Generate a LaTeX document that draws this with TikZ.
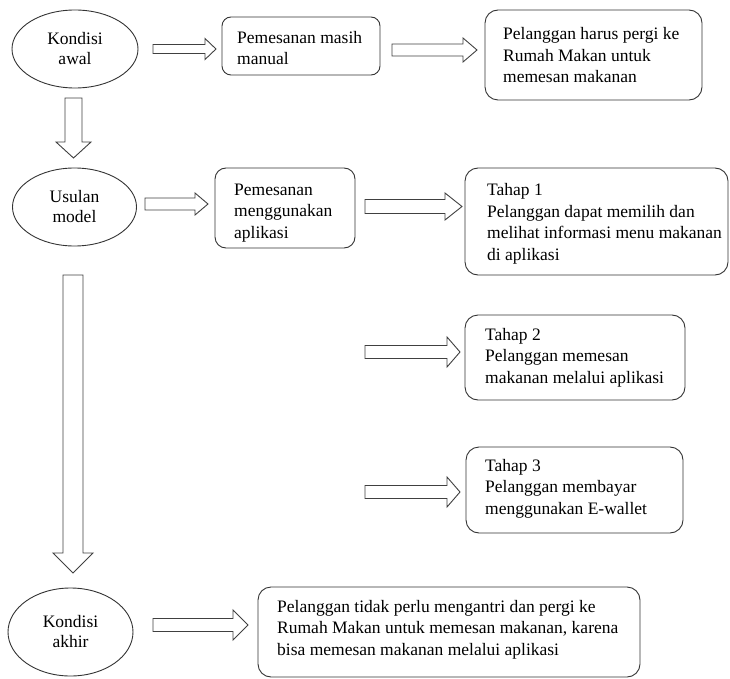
\documentclass[tikz,border=0pt]{standalone}
\usepackage{fontspec}
\setmainfont{Liberation Serif}
\usetikzlibrary{shapes.geometric,calc}

\tikzset{
  outline/.style={draw=black!80, line width=0.9pt},
  oval/.style={outline, ellipse, inner sep=0pt, align=center,
    font=\fontsize{17.5}{20}\selectfont},
  card/.style={outline, rectangle, rounded corners=12pt, inner sep=0pt},
  % placed at the baseline of the last line
  words/.style={font=\fontsize{17.5}{21.5}\selectfont, align=left,
    inner sep=0pt, anchor=base west},
  fat/.style={draw=black!75, line width=0.9pt, fill=white, line join=miter}
}

% hollow block arrow pointing right: start, end, shaft half-height, head half-height, head length
\newcommand{\rightblock}[5]{%
  \draw[fat] let \p1=(#1), \p2=(#2) in
    (\x1,\y1+#3pt) -- (\x2-#5pt,\y1+#3pt) -- (\x2-#5pt,\y1+#4pt) -- (\x2,\y1)
    -- (\x2-#5pt,\y1-#4pt) -- (\x2-#5pt,\y1-#3pt) -- (\x1,\y1-#3pt) -- cycle;}
% hollow block arrow pointing down: start, end, shaft half-width, head half-width, head length
\newcommand{\downblock}[5]{%
  \draw[fat] let \p1=(#1), \p2=(#2) in
    (\x1-#3pt,\y1) -- (\x1-#3pt,\y2+#5pt) -- (\x1-#4pt,\y2+#5pt) -- (\x1,\y2)
    -- (\x1+#4pt,\y2+#5pt) -- (\x1+#3pt,\y2+#5pt) -- (\x1+#3pt,\y1) -- cycle;}

\begin{document}
\begin{tikzpicture}[x=1pt, y=-1pt]
\useasboundingbox (0,0) rectangle (730,679);

% stages on the left
\node[oval, minimum width=126pt, minimum height=78pt] (e1) at (75,49) {Kondisi\\awal};
\node[oval, minimum width=124pt, minimum height=78pt] (e2) at (74.5,207) {Usulan\\model};
\node[oval, minimum width=125pt, minimum height=88pt] (e3) at (70.5,632) {Kondisi\\akhir};

% rounded boxes
\node[card, rounded corners=9pt, minimum width=158pt, minimum height=58pt] (b1) at (301,46) {};
\node[card, rounded corners=13pt, minimum width=217pt, minimum height=90pt] (b2) at (593.5,55) {};
\node[card, rounded corners=11pt, minimum width=140pt, minimum height=80pt] (b3) at (285,208) {};
\node[card, rounded corners=13pt, minimum width=263pt, minimum height=107pt] (b4) at (596.5,221.5) {};
\node[card, rounded corners=13pt, minimum width=220pt, minimum height=85pt] (b5) at (575,357.5) {};
\node[card, rounded corners=13pt, minimum width=217pt, minimum height=86pt] (b6) at (574.5,490) {};
\node[card, rounded corners=13pt, minimum width=382pt, minimum height=90pt] (b7) at (449,632) {};

% box texts
\node[words] (t1) at (237,65) {Pemesanan masih\\manual};
\node[words] (t2) at (503,83) {Pelanggan harus pergi ke\\Rumah Makan untuk\\memesan makanan};
\node[words] (t3) at (234,238) {Pemesanan\\menggunakan\\aplikasi};
\node[words] (t4) at (487,260) {Tahap 1\\Pelanggan dapat memilih dan\\melihat informasi menu makanan\\di aplikasi};
\node[words] (t5) at (485,383) {Tahap 2\\Pelanggan memesan\\makanan melalui aplikasi};
\node[words] (t6) at (485,514) {Tahap 3\\Pelanggan membayar\\menggunakan E-wallet};
\node[words] (t7) at (277,655) {Pelanggan tidak perlu mengantri dan pergi ke\\Rumah Makan untuk memesan makanan, karena\\bisa memesan makanan melalui aplikasi};

% arrow end points
\coordinate (a1s) at (153,49);  \coordinate (a1e) at (216,49);
\coordinate (a2s) at (392,50);  \coordinate (a2e) at (477,50);
\coordinate (a3s) at (145,204); \coordinate (a3e) at (208,204);
\coordinate (a4s) at (365,206.5); \coordinate (a4e) at (462,206.5);
\coordinate (a5s) at (365,352); \coordinate (a5e) at (460,352);
\coordinate (a6s) at (365,492); \coordinate (a6e) at (460,492);
\coordinate (a7s) at (153,625); \coordinate (a7e) at (248,625);
\coordinate (d1s) at (73.5,98); \coordinate (d1e) at (73.5,158);
\coordinate (d2s) at (73,275);  \coordinate (d2e) at (73,573);

% block arrows
\rightblock{a1s}{a1e}{4.5}{10.5}{11}
\rightblock{a2s}{a2e}{6}{12}{14}
\rightblock{a3s}{a3e}{6}{11}{13}
\rightblock{a4s}{a4e}{7}{13.5}{17}
\rightblock{a5s}{a5e}{6.5}{15}{13}
\rightblock{a6s}{a6e}{6.5}{15}{13}
\rightblock{a7s}{a7e}{6.5}{15}{15}
\downblock{d1s}{d1e}{8.5}{17.5}{16}
\downblock{d2s}{d2e}{10}{20}{20}
\end{tikzpicture}
\end{document}
